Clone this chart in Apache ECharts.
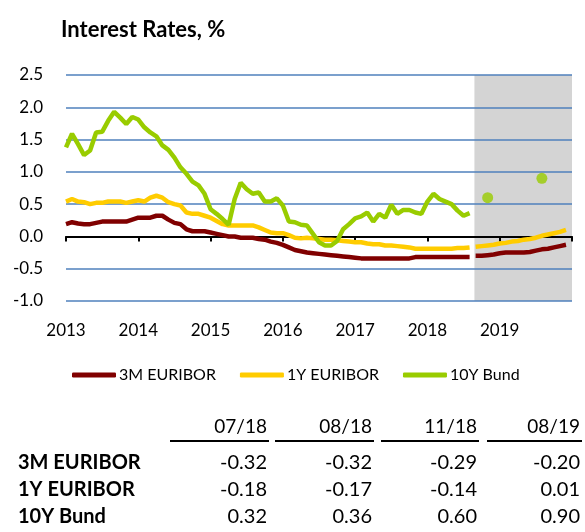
<!DOCTYPE html>
<html>
<head>
<meta charset="utf-8">
<script src="https://cdn.jsdelivr.net/npm/echarts@6/dist/echarts.min.js"></script>
<style>
  html, body { margin: 0; padding: 0; background: #fff; }
  #chart { width: 585px; height: 532px; }
</style>
</head>
<body>
<div id="chart"></div>
<script>
// monthly history, Jan 2013 .. Aug 2018
const historyStart = '2013-01';
const euribor3m = [
  0.19, 0.22, 0.20, 0.19, 0.19, 0.21, 0.23, 0.23, 0.23, 0.23, 0.23, 0.26,
  0.29, 0.29, 0.29, 0.32, 0.32, 0.26, 0.21, 0.19, 0.11, 0.08, 0.08, 0.08,
  0.06, 0.04, 0.02, 0.00, 0.00, -0.02, -0.02, -0.02, -0.04, -0.05, -0.08, -0.10,
  -0.13, -0.17, -0.21, -0.23, -0.25, -0.26, -0.27, -0.28, -0.29, -0.30, -0.31, -0.32,
  -0.33, -0.34, -0.34, -0.34, -0.34, -0.34, -0.34, -0.34, -0.34, -0.34, -0.32, -0.32,
  -0.32, -0.32, -0.32, -0.32, -0.32, -0.32, -0.32, -0.32
];
const euribor1y = [
  0.54, 0.58, 0.54, 0.53, 0.50, 0.52, 0.52, 0.54, 0.54, 0.54, 0.52, 0.54,
  0.56, 0.54, 0.60, 0.63, 0.60, 0.53, 0.50, 0.48, 0.37, 0.35, 0.35, 0.32,
  0.29, 0.24, 0.19, 0.17, 0.17, 0.17, 0.17, 0.17, 0.14, 0.10, 0.06, 0.05,
  0.05, 0.02, -0.02, -0.03, -0.02, -0.03, -0.04, -0.05, -0.05, -0.06, -0.07, -0.08,
  -0.09, -0.09, -0.11, -0.12, -0.12, -0.14, -0.14, -0.15, -0.16, -0.17, -0.19, -0.19,
  -0.19, -0.19, -0.19, -0.19, -0.19, -0.18, -0.18, -0.17
];
const bund10y = [
  1.38, 1.59, 1.43, 1.26, 1.33, 1.61, 1.62, 1.79, 1.93, 1.84, 1.74, 1.85,
  1.81, 1.69, 1.61, 1.55, 1.41, 1.34, 1.22, 1.07, 0.97, 0.85, 0.79, 0.66,
  0.42, 0.35, 0.27, 0.18, 0.58, 0.83, 0.73, 0.66, 0.68, 0.54, 0.54, 0.59,
  0.48, 0.23, 0.22, 0.18, 0.17, 0.04, -0.09, -0.14, -0.14, -0.07, 0.11, 0.19,
  0.28, 0.31, 0.37, 0.23, 0.35, 0.29, 0.49, 0.35, 0.41, 0.41, 0.37, 0.35,
  0.54, 0.66, 0.58, 0.54, 0.50, 0.40, 0.32, 0.36
];

// forecasts, Sep 2018 .. Dec 2019
const forecastStart = '2018-09';
const euribor3mForecast = [
  -0.30, -0.30, -0.29, -0.28, -0.26, -0.25, -0.25, -0.25,
  -0.25, -0.24, -0.22, -0.20, -0.19, -0.17, -0.15, -0.13
];
const euribor1yForecast = [
  -0.16, -0.15, -0.14, -0.13, -0.11, -0.10, -0.08, -0.07,
  -0.05, -0.04, -0.02, 0.01, 0.03, 0.05, 0.07, 0.10
];
const bundForecastMonths = ['2018-11', '2019-08'];
const bundForecast = [0.60, 0.90];

const forecastFrom = 2018.65;
const axisStartYear = 2013;
const axisEndYear = 2020;

// table under the chart
const tableCols = ['07/18', '08/18', '11/18', '08/19'];
const tableRows = ['3M EURIBOR', '1Y EURIBOR', '10Y Bund'];
const table3m = ['-0.32', '-0.32', '-0.29', '-0.20'];
const table1y = ['-0.18', '-0.17', '-0.14', '0.01'];
const table10y = ['0.32', '0.36', '0.60', '0.90'];

const RED = '#800000', YELLOW = '#FFCC00', GREEN = '#99CC00';
const FONT = 'Lato, "Open Sans", sans-serif';

function toYear(ym) {
  const [y, m] = ym.split('-').map(Number);
  return y + (m - 1) / 12;
}
function pairs(start, values) {
  const x0 = toYear(start);
  return values.map((v, i) => [x0 + i / 12, v]);
}

// table graphics
const colRight = [267, 372, 477, 580];
const colLeft = [170, 275, 381, 487];
const rowY = [463, 490, 517];
const tableValues = [table3m, table1y, table10y];
const graphics = [];
tableCols.forEach((c, i) => {
  graphics.push({
    type: 'text', x: colRight[i], y: 427,
    style: { text: c, font: '19px ' + FONT, fill: '#000', textAlign: 'right', textVerticalAlign: 'middle' }
  });
  graphics.push({
    type: 'line', shape: { x1: colLeft[i], y1: 441, x2: colRight[i] + 2, y2: 441 },
    style: { stroke: '#000', lineWidth: 2 }
  });
});
tableRows.forEach((r, j) => {
  graphics.push({
    type: 'text', x: 18, y: rowY[j],
    style: { text: r, font: 'bold 20px ' + FONT, fill: '#000', textAlign: 'left', textVerticalAlign: 'middle' }
  });
  tableValues[j].forEach((v, i) => {
    graphics.push({
      type: 'text', x: colRight[i], y: rowY[j],
      style: { text: v, font: '20px ' + FONT, fill: '#000', textAlign: 'right', textVerticalAlign: 'middle' }
    });
  });
});

const chart = echarts.init(document.getElementById('chart'));
chart.setOption({
  animation: false,
  backgroundColor: '#fff',
  title: {
    text: 'Interest Rates, %',
    left: 56, top: 14,
    textStyle: { fontFamily: FONT, fontSize: 22, fontWeight: 'bold', color: '#000' }
  },
  legend: {
    data: ['3M EURIBOR', '1Y EURIBOR', '10Y Bund'],
    left: 67, top: 362,
    icon: 'roundRect',
    itemWidth: 44, itemHeight: 5,
    itemGap: 24,
    textStyle: { fontFamily: FONT, fontSize: 16, color: '#000', padding: [0, 0, 0, -2] }
  },
  grid: { left: 66, right: 13, top: 75, bottom: 231 },
  xAxis: {
    type: 'value',
    min: axisStartYear, max: axisEndYear, interval: 1,
    z: 2,
    axisLine: { lineStyle: { color: '#000', width: 2 } },
    axisTick: { show: true, length: 5, lineStyle: { color: '#000', width: 2 } },
    splitLine: { show: false },
    axisLabel: {
      margin: 21,
      fontFamily: FONT, fontSize: 17, color: '#000',
      formatter: v => (v < axisEndYear ? String(v) : '')
    }
  },
  yAxis: {
    type: 'value',
    min: -1, max: 2.5, interval: 0.5,
    z: 2,
    axisLine: { show: false },
    axisTick: { show: false },
    splitLine: { lineStyle: { color: '#4F81BD', width: 1.5 } },
    axisLabel: {
      margin: 23,
      fontFamily: FONT, fontSize: 17, color: '#000',
      formatter: v => v.toFixed(1)
    }
  },
  graphic: graphics,
  series: [
    {
      name: '3M EURIBOR', type: 'line', z: 3,
      data: pairs(historyStart, euribor3m),
      showSymbol: false, color: RED,
      lineStyle: { width: 4.5, color: RED },
      markArea: {
        silent: true,
        itemStyle: { color: '#D4D4D4' },
        data: [[{ xAxis: forecastFrom }, { xAxis: axisEndYear }]]
      }
    },
    {
      name: '1Y EURIBOR', type: 'line', z: 3,
      data: pairs(historyStart, euribor1y),
      showSymbol: false, color: YELLOW,
      lineStyle: { width: 4.5, color: YELLOW }
    },
    {
      name: '10Y Bund', type: 'line', z: 3,
      data: pairs(historyStart, bund10y),
      showSymbol: false, color: GREEN,
      lineStyle: { width: 4.5, color: GREEN }
    },
    {
      name: '3M EURIBOR', type: 'line', z: 3,
      data: pairs(forecastStart, euribor3mForecast),
      showSymbol: false, color: RED,
      lineStyle: { width: 4.5, color: RED }
    },
    {
      name: '1Y EURIBOR', type: 'line', z: 3,
      data: pairs(forecastStart, euribor1yForecast),
      showSymbol: false, color: YELLOW,
      lineStyle: { width: 4.5, color: YELLOW }
    },
    {
      name: '10Y Bund', type: 'scatter', z: 3,
      data: bundForecastMonths.map((m, i) => [toYear(m), bundForecast[i]]),
      symbolSize: 11, color: GREEN
    }
  ]
});
</script>
</body>
</html>
